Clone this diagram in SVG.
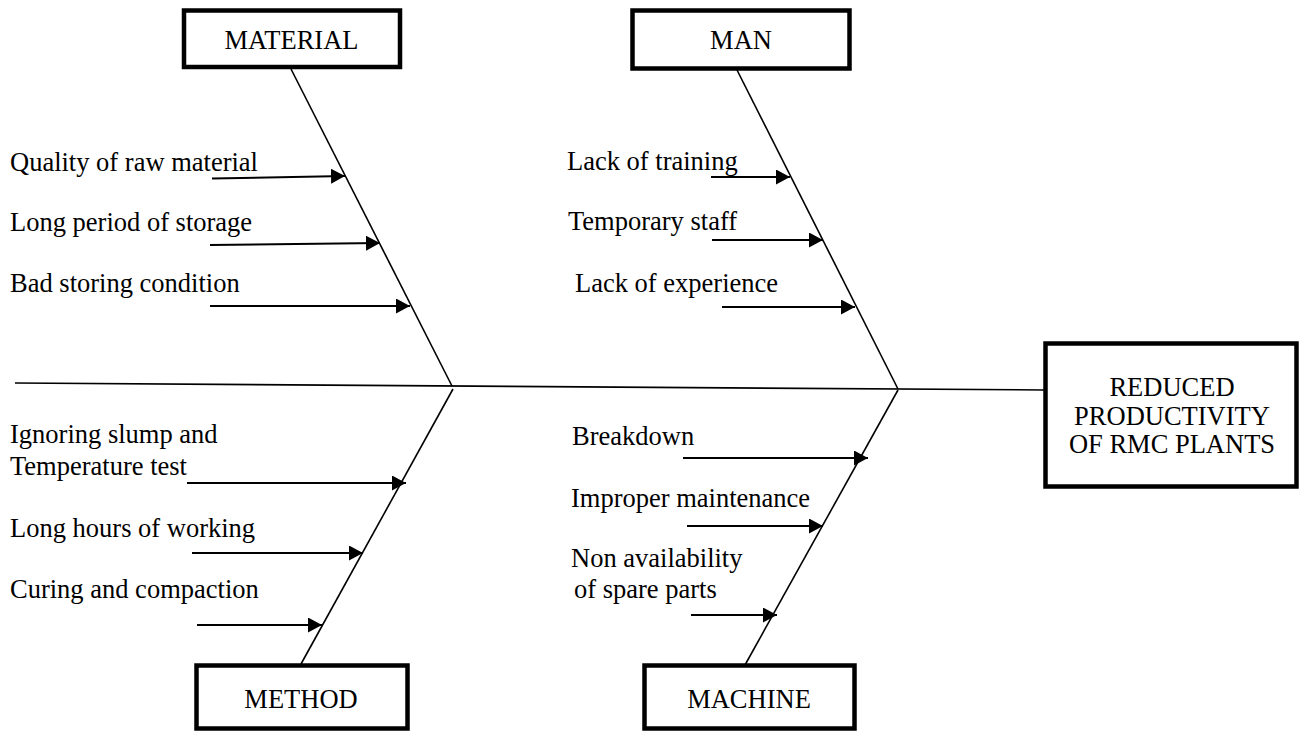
<svg xmlns="http://www.w3.org/2000/svg" width="1301" height="731" viewBox="0 0 1301 731">
  <style>
    text { font-family: "Liberation Serif", "Times New Roman", serif; font-size: 26.5px; fill: #000; }
    .box { fill: #fff; stroke: #000; stroke-width: 4.5; }
    .bone { stroke: #000; stroke-width: 1.6; fill: none; }
    .arr { stroke: #000; stroke-width: 2; fill: none; marker-end: url(#ah); }
    .c { text-anchor: middle; }
  </style>
  <defs>
    <marker id="ah" markerUnits="userSpaceOnUse" markerWidth="15" markerHeight="15" refX="14" refY="7.5" orient="auto">
      <path d="M0,0 L14,7.5 L0,15 z" fill="#000"/>
    </marker>
  </defs>
  <rect width="1301" height="731" fill="#fff"/>

  <g id="connectors">
    <line class="bone" x1="15" y1="383" x2="1045" y2="390"/>
    <line class="bone" x1="291" y1="69" x2="452" y2="386"/>
    <line class="bone" x1="737" y1="70" x2="898" y2="389"/>
    <line class="bone" x1="453" y1="389" x2="301" y2="664"/>
    <line class="bone" x1="898" y1="390" x2="745" y2="665"/>

    <line class="arr" x1="212" y1="178.5" x2="345" y2="176"/>
    <line class="arr" x1="210" y1="245" x2="380" y2="243"/>
    <line class="arr" x1="210" y1="306" x2="410" y2="306"/>

    <line class="arr" x1="711" y1="177" x2="790" y2="177"/>
    <line class="arr" x1="712" y1="240" x2="823" y2="240"/>
    <line class="arr" x1="722" y1="307" x2="855" y2="307"/>

    <line class="arr" x1="187" y1="483" x2="406" y2="483"/>
    <line class="arr" x1="192" y1="553" x2="363" y2="553"/>
    <line class="arr" x1="197" y1="625" x2="322" y2="625"/>

    <line class="arr" x1="683" y1="458" x2="868" y2="458"/>
    <line class="arr" x1="687" y1="526" x2="823" y2="526"/>
    <line class="arr" x1="691" y1="615" x2="777" y2="615"/>
  </g>

  <g id="material">
    <rect class="box" x="184" y="10.5" width="216" height="56.5"/>
    <text class="c" x="291.5" y="49">MATERIAL</text>
  </g>
  <g id="man">
    <rect class="box" x="632.5" y="10.5" width="217" height="58"/>
    <text class="c" x="741" y="49">MAN</text>
  </g>
  <g id="method">
    <rect class="box" x="196.5" y="665.5" width="211" height="63"/>
    <text class="c" x="301" y="708">METHOD</text>
  </g>
  <g id="machine">
    <rect class="box" x="644.5" y="665.5" width="210" height="63"/>
    <text class="c" x="749" y="708">MACHINE</text>
  </g>
  <g id="effect">
    <rect class="box" x="1045.5" y="343.5" width="251" height="143"/>
    <text class="c" x="1172" y="396">REDUCED</text>
    <text class="c" x="1172" y="424.5">PRODUCTIVITY</text>
    <text class="c" x="1172" y="453">OF RMC PLANTS</text>
  </g>

  <g id="material-causes">
    <text x="10" y="171">Quality of raw material</text>
    <text x="10" y="231">Long period of storage</text>
    <text x="10" y="292">Bad storing condition</text>
  </g>
  <g id="man-causes">
    <text x="567" y="170">Lack of training</text>
    <text x="568" y="230">Temporary staff</text>
    <text x="575" y="292">Lack of experience</text>
  </g>
  <g id="method-causes">
    <text x="10" y="443">Ignoring slump and</text>
    <text x="10" y="475">Temperature test</text>
    <text x="10" y="537">Long hours of working</text>
    <text x="10" y="598">Curing and compaction</text>
  </g>
  <g id="machine-causes">
    <text x="572" y="445">Breakdown</text>
    <text x="571" y="507">Improper maintenance</text>
    <text x="571" y="567">Non availability</text>
    <text x="574" y="598">of spare parts</text>
  </g>
</svg>
